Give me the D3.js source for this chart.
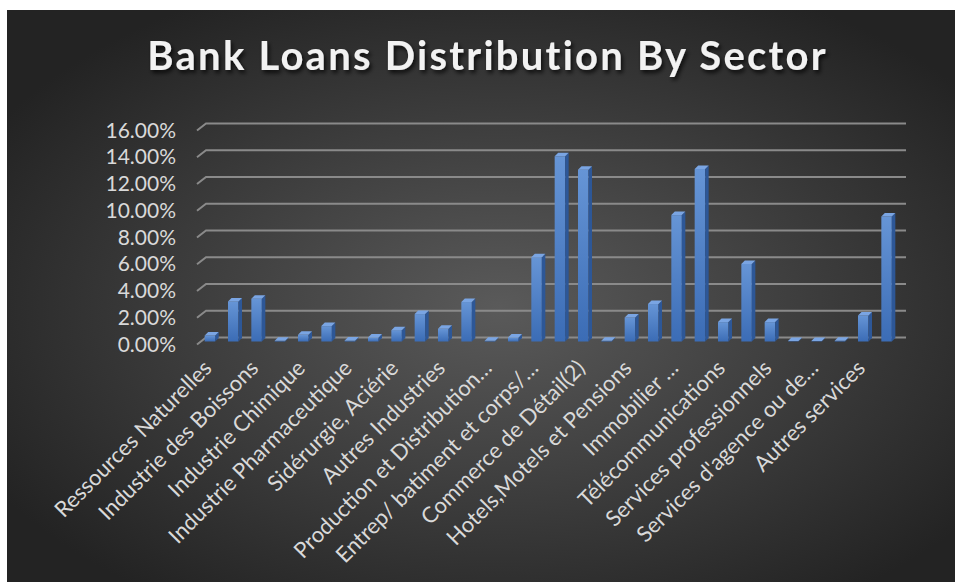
<!DOCTYPE html>
<html>
<head>
<meta charset="utf-8">
<script src="https://cdn.jsdelivr.net/npm/d3@7"></script>
<style>
  html, body { margin: 0; padding: 0; background: #ffffff; }
  svg { display: block; }
</style>
</head>
<body>
<svg id="chart" width="955" height="582"></svg>
<script>
// Sectors in chart order (axis shows every second name)
const categories = [
  "Ressources Naturelles", "Industrie Alimentaire", "Industrie des Boissons", "Industrie du Tabac",
  "Industrie Chimique", "Industrie Textile", "Industrie Pharmaceutique", "Industrie du Bois et Papier",
  "Sidérurgie, Aciérie", "Matériaux de Construction", "Autres Industries", "Industrie Mécanique",
  "Production et Distribution…", "Eau et Assainissement", "Entrep/ batiment et corps/…", "Commerce de Gros",
  "Commerce de Détail(2)", "Restaurants et Cafés", "Hotels,Motels et Pensions", "Transports",
  "Immobilier …", "Banques et Assurances", "Télécommunications", "Services aux Entreprises",
  "Services professionnels", "Enseignement", "Services d'agence ou de…", "Santé",
  "Autres services", "Particuliers"
];
// Share of total loans, in percent
const shares = [
  0.45, 3.0, 3.2, 0.05, 0.5, 1.15, 0.08, 0.3, 0.85, 2.05,
  0.95, 2.95, 0.05, 0.3, 6.3, 13.85, 12.85, 0.05, 1.8, 2.8,
  9.45, 12.9, 1.45, 5.8, 1.45, 0.03, 0.03, 0.05, 1.95, 9.35
];
const yTicks = [0, 2, 4, 6, 8, 10, 12, 14, 16];
const title = "Bank Loans Distribution By Sector";

const FONT = "Lato, 'Open Sans', sans-serif";
const svg = d3.select("#chart");
const defs = svg.append("defs");

// Dark radial background
const bg = defs.append("radialGradient").attr("id", "bg")
  .attr("cx", "52%").attr("cy", "52%").attr("r", "62%");
bg.append("stop").attr("offset", "0%").attr("stop-color", "#5a5a5a");
bg.append("stop").attr("offset", "100%").attr("stop-color", "#232323");

// Column face shading
const front = defs.append("linearGradient").attr("id", "front")
  .attr("x1", 0).attr("y1", 0).attr("x2", 0).attr("y2", 1);
front.append("stop").attr("offset", "0%").attr("stop-color", "#6695d6");
front.append("stop").attr("offset", "100%").attr("stop-color", "#3b6cb5");

const shadow = defs.append("filter").attr("id", "tshadow")
  .attr("x", "-10%").attr("y", "-30%").attr("width", "120%").attr("height", "160%");
shadow.append("feDropShadow").attr("dx", 2).attr("dy", 3).attr("stdDeviation", 2)
  .attr("flood-color", "#000").attr("flood-opacity", 0.75);

svg.append("rect").attr("x", 7).attr("y", 10).attr("width", 948).attr("height", 572)
  .attr("fill", "url(#bg)");

// Scales
const x = d3.scaleBand().domain(categories).range([200, 900]).paddingInner(0).paddingOuter(0);
const y = d3.scaleLinear().domain([0, 16]).range([337.5, 123.5]);

// Gridlines on the back wall, with a short floor edge on the left
const grid = svg.append("g").attr("stroke", "#8a8a8a").attr("stroke-width", 2).attr("fill", "none");
grid.selectAll("path").data(yTicks).join("path")
  .attr("d", d => `M197,${y(d) + 7}L206,${y(d)}L906,${y(d)}`);

// Y axis labels
const yAxis = d3.axisLeft(y).tickValues(yTicks).tickSize(0).tickPadding(0)
  .tickFormat(d => d3.format(".2f")(d) + "%");
const ya = svg.append("g").attr("transform", "translate(176,7)").call(yAxis);
ya.select(".domain").remove();
ya.selectAll("text")
  .attr("fill", "#d9d9d9")
  .style("font-family", FONT)
  .style("font-size", "21px");

// 3D columns
const w = 10.5, d = 3.5, drop = 4;
const bars = svg.append("g").selectAll("g").data(shares).join("g");
bars.each(function (v, i) {
  const g = d3.select(this);
  const x0 = x(categories[i]) + x.bandwidth() / 2 - (w + d) / 2;
  const yt = y(v) + drop, yb = y(0) + drop;
  // front
  g.append("rect").attr("x", x0).attr("y", yt).attr("width", w).attr("height", Math.max(0, yb - yt))
    .attr("fill", "url(#front)");
  // side
  g.append("path")
    .attr("d", `M${x0 + w},${yt}L${x0 + w + d},${yt - d}L${x0 + w + d},${yb - d}L${x0 + w},${yb}Z`)
    .attr("fill", "#2d5797");
  // top
  g.append("path")
    .attr("d", `M${x0},${yt}L${x0 + w},${yt}L${x0 + w + d},${yt - d}L${x0 + d},${yt - d}Z`)
    .attr("fill", "#7aa5e3");
});

// Category axis: every second label, rotated
const xAxis = d3.axisBottom(x).tickValues(categories.filter((c, i) => i % 2 === 0))
  .tickSize(0).tickPadding(0);
const xa = svg.append("g").attr("transform", "translate(0,364)").call(xAxis);
xa.select(".domain").remove();
xa.selectAll("text")
  .attr("fill", "#d9d9d9")
  .style("font-family", FONT)
  .style("font-size", "22px")
  .attr("text-anchor", "end")
  .attr("dy", "0.35em")
  .attr("transform", "translate(-4,0) rotate(-45)");

// Title
const t = svg.append("text")
  .attr("x", 486.5).attr("y", 70)
  .attr("text-anchor", "middle")
  .attr("fill", "#f2f2f2")
  .attr("filter", "url(#tshadow)")
  .style("font-family", FONT)
  .style("font-weight", "bold")
  .style("font-size", "40px")
  .text(title);
const natural = t.node().getComputedTextLength();
const spacing = (679 - natural) / (title.length - 1);
t.style("letter-spacing", spacing + "px").attr("x", 486.5 + spacing / 2);
</script>
</body>
</html>
